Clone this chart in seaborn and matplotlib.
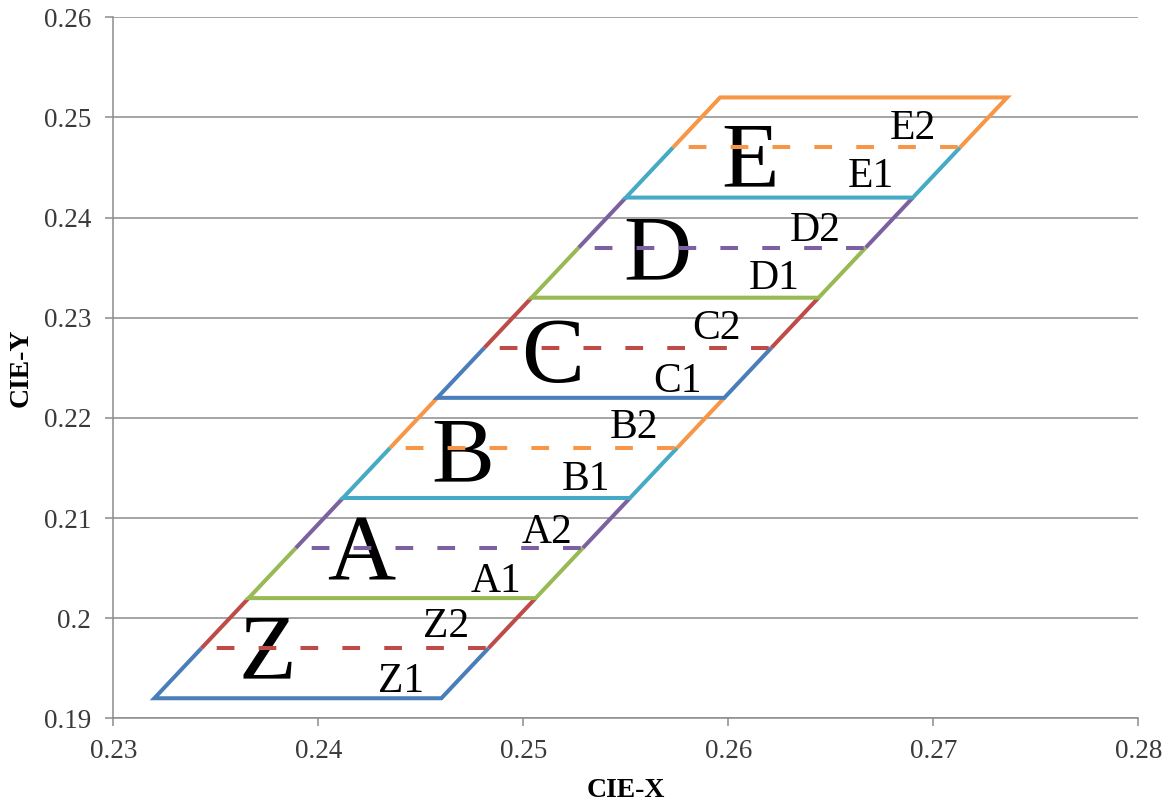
import matplotlib
matplotlib.use("Agg")
import matplotlib.pyplot as plt
import pandas as pd
import seaborn as sns

# boundary levels (CIE-y) and the left / right edge of the bins at each level
levels = [0.192, 0.197, 0.202, 0.207, 0.212, 0.217, 0.222,
          0.227, 0.232, 0.237, 0.242, 0.247, 0.252]
left_x = [0.2320, 0.2343, 0.2366, 0.2389, 0.2412, 0.2435, 0.2458,
          0.2481, 0.2504, 0.2527, 0.2550, 0.2573, 0.2596]
right_x = [0.2460, 0.2483, 0.2506, 0.2529, 0.2552, 0.2575, 0.2598,
           0.2621, 0.2644, 0.2667, 0.2690, 0.2713, 0.2736]

sub_bins = ["Z1", "Z2", "A1", "A2", "B1", "B2", "C1", "C2", "D1", "D2", "E1", "E2"]
sub_x = [0.24405, 0.24624, 0.24866, 0.25115, 0.25305, 0.25539,
         0.25754, 0.25944, 0.26222, 0.26422, 0.26695, 0.26900]
sub_y = [0.19263, 0.19813, 0.20263, 0.20753, 0.21283, 0.21803,
         0.22263, 0.22783, 0.23283, 0.23763, 0.24303, 0.24783]

bins = ["Z", "A", "B", "C", "D", "E"]
bin_x = [0.23753, 0.24208, 0.24705, 0.25145, 0.25652, 0.26105]
bin_y = [0.19403, 0.20383, 0.21363, 0.22363, 0.23383, 0.24313]

x_ticks = [0.23, 0.24, 0.25, 0.26, 0.27, 0.28]
x_tick_labels = ["0.23", "0.24", "0.25", "0.26", "0.27", "0.28"]
y_ticks = [0.19, 0.20, 0.21, 0.22, 0.23, 0.24, 0.25, 0.26]
y_tick_labels = ["0.19", "0.2", "0.21", "0.22", "0.23", "0.24", "0.25", "0.26"]

# Excel 2007 line colours, cycling per sub-bin
palette = ["#4A7EBB", "#BE4B48", "#98B954", "#7D60A0", "#46AAC5", "#F79646"]

sns.set_theme(style="white")
plt.rcParams["font.family"] = ["Liberation Serif", "DejaVu Serif"]

fig = plt.figure(figsize=(11.72, 8.02), dpi=100)
ax = fig.add_axes([0.0967, 0.1044, 0.8746, 0.874])

LW = 2.9
dash = (6.5, (4.4, 6.0))  # starts with a short gap like Excel


def seg(xs, ys, color, ls="-"):
    df = pd.DataFrame({"x": xs, "y": ys})
    sns.lineplot(data=df, x="x", y="y", sort=False, estimator=None, ax=ax,
                 color=color, lw=LW, linestyle=ls, legend=False, zorder=3,
                 solid_joinstyle="miter", solid_capstyle="butt")


for i, name in enumerate(sub_bins):
    c = palette[i % len(palette)]
    lx0, lx1 = left_x[i], left_x[i + 1]
    rx0, rx1 = right_x[i], right_x[i + 1]
    y0, y1 = levels[i], levels[i + 1]
    if name.endswith("1"):
        seg([lx1, lx0, rx0, rx1], [y1, y0, y0, y1], c)
    else:
        if i == len(sub_bins) - 1:
            # last bin closes the top
            seg([lx0, lx1, rx1, rx0], [y0, y1, y1, y0], c)
        else:
            seg([lx0, lx1], [y0, y1], c)
            seg([rx0, rx1], [y0, y1], c)
        seg([lx0, rx0], [y0, y0], c, ls=dash)

for t, x, y in zip(bins, bin_x, bin_y):
    ax.text(x, y, t, fontsize=68, ha="center", va="baseline", color="black", zorder=2)
for t, x, y in zip(sub_bins, sub_x, sub_y):
    ax.text(x, y, t, fontsize=30, ha="center", va="baseline", color="black", zorder=2)

ax.set_xlim(0.23, 0.28)
ax.set_ylim(0.19, 0.26)
ax.set_xticks(x_ticks)
ax.set_xticklabels(x_tick_labels)
ax.set_yticks(y_ticks)
ax.set_yticklabels(y_tick_labels)
ax.yaxis.grid(True, color="#8c8c8c", lw=1.1)
ax.xaxis.grid(False)
ax.set_axisbelow(True)

for s in ["top", "right"]:
    ax.spines[s].set_visible(False)
for s in ["left", "bottom"]:
    ax.spines[s].set_color("#8c8c8c")
    ax.spines[s].set_linewidth(1.1)

ax.tick_params(axis="both", direction="out", length=6, width=1.1, color="#8c8c8c",
               labelsize=19.5, labelcolor="#3a3a3a")
ax.tick_params(axis="x", pad=9, bottom=True)
ax.tick_params(axis="y", pad=10, left=True)

ax.set_xlabel("CIE-X", fontsize=20, fontweight="bold", color="black", labelpad=10)
ax.set_ylabel("CIE-Y", fontsize=20, fontweight="bold", color="black", labelpad=7)

fig.savefig("out.png", dpi=100)
